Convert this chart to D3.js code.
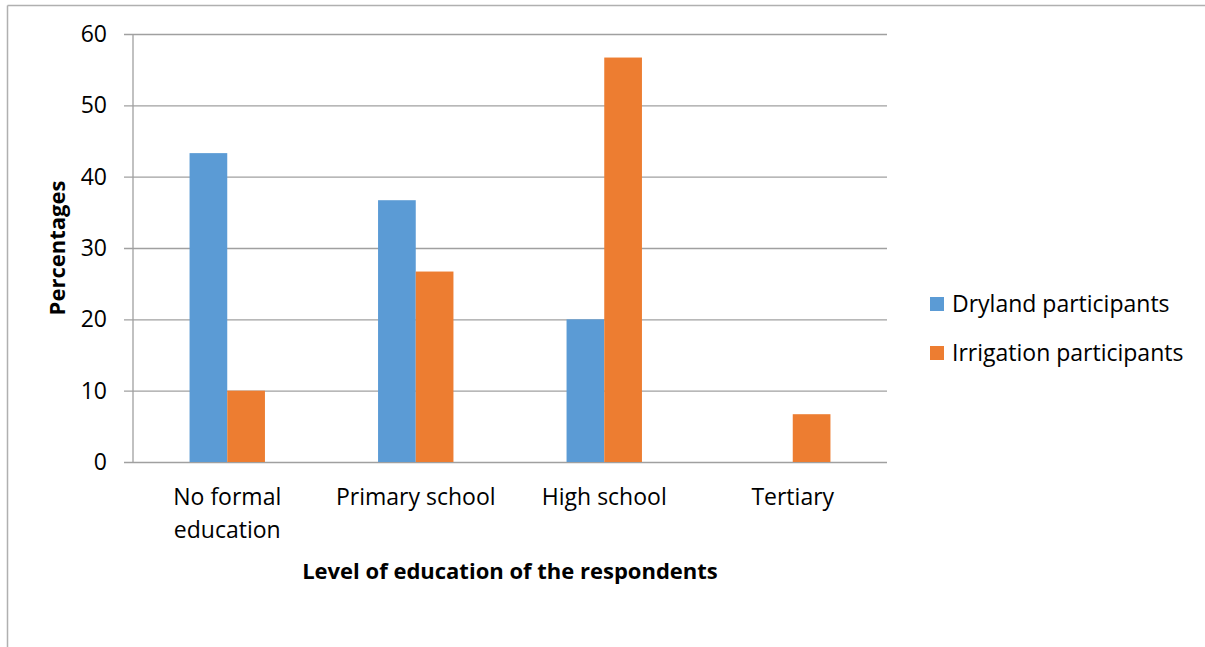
<!DOCTYPE html>
<html>
<head>
<meta charset="utf-8">
<script src="https://cdn.jsdelivr.net/npm/d3@7"></script>
<style>
  html, body { margin: 0; padding: 0; background: #fff; }
  svg { display: block; font-family: "Open Sans", Lato, sans-serif; }
</style>
</head>
<body>
<svg id="chart" width="1205" height="647"></svg>
<script>
const categories = [["No formal", "education"], ["Primary school"], ["High school"], ["Tertiary"]];
const seriesNames = ["Dryland participants", "Irrigation participants"];
const dryland = [43.3, 36.7, 20, 0];
const irrigation = [10, 26.7, 56.7, 6.7];
const yTicks = [0, 10, 20, 30, 40, 50, 60];
const colors = ["#5B9BD5", "#ED7D31"];

const FONT = "'Open Sans', Lato, sans-serif";
const FS = 23;
const FSB = 22;

const svg = d3.select("#chart");
const W = 1205, H = 647;
const plot = { left: 133, right: 887, top: 34, bottom: 462 };

// outer frame (top and left edges visible)
svg.append("line").attr("x1", 7.5).attr("x2", W).attr("y1", 5.5).attr("y2", 5.5)
  .attr("stroke", "#b0b0b0").attr("stroke-width", 1.5);
svg.append("line").attr("x1", 7.5).attr("x2", 7.5).attr("y1", 5.5).attr("y2", H)
  .attr("stroke", "#b0b0b0").attr("stroke-width", 1.5);

const catKeys = categories.map((c, i) => i);
const x0 = d3.scaleBand().domain(catKeys).range([plot.left, plot.right]).paddingInner(0).paddingOuter(0);
const barW = x0.bandwidth() / 5;
const x1 = d3.scaleBand().domain([0, 1]).range([0, barW * 2]);
const y = d3.scaleLinear().domain([0, 60]).range([plot.bottom, plot.top]);

// gridlines + tick marks
const yAxis = d3.axisLeft(y).tickValues(yTicks).tickSize(-(plot.right - plot.left)).tickSizeOuter(0).tickPadding(26);
const gy = svg.append("g").attr("transform", `translate(${plot.left},0)`).call(yAxis);
gy.select(".domain").remove();
gy.selectAll(".tick line").attr("stroke", "#a0a0a0").attr("stroke-width", 1.3).attr("x1", -9);
gy.selectAll(".tick text").attr("font-size", FS).attr("fill", "#000").attr("font-family", FONT);

// y axis line
svg.append("line").attr("x1", plot.left).attr("x2", plot.left).attr("y1", plot.top).attr("y2", plot.bottom)
  .attr("stroke", "#a0a0a0").attr("stroke-width", 1.3);

// bars
const data = catKeys.map(i => [dryland[i], irrigation[i]]);
const groups = svg.append("g").selectAll("g").data(data).join("g")
  .attr("transform", (d, i) => `translate(${x0(i) + x0.bandwidth() / 2 - barW},0)`);
groups.selectAll("rect").data(d => d.map((v, s) => ({ v, s }))).join("rect")
  .attr("x", d => x1(d.s))
  .attr("width", barW)
  .attr("y", d => y(d.v))
  .attr("height", d => y(0) - y(d.v))
  .attr("fill", d => colors[d.s]);

// category labels
const catG = svg.append("g");
categories.forEach((lines, i) => {
  const t = catG.append("text").attr("x", x0(i) + x0.bandwidth() / 2).attr("y", 505)
    .attr("text-anchor", "middle").attr("font-size", FS).attr("fill", "#000");
  lines.forEach((ln, j) => t.append("tspan").attr("x", x0(i) + x0.bandwidth() / 2).attr("dy", j === 0 ? 0 : 33).text(ln));
});

// axis titles
svg.append("text").attr("x", (plot.left + plot.right) / 2).attr("y", 579)
  .attr("text-anchor", "middle").attr("font-size", FSB).attr("font-weight", "bold").attr("fill", "#000")
  .text("Level of education of the respondents");
svg.append("text").attr("transform", `translate(65,${(plot.top + plot.bottom) / 2}) rotate(-90)`)
  .attr("text-anchor", "middle").attr("font-size", FSB).attr("font-weight", "bold").attr("fill", "#000")
  .text("Percentages");

// legend
const lg = svg.append("g").attr("transform", "translate(930,297)");
seriesNames.forEach((n, i) => {
  lg.append("rect").attr("x", 0).attr("y", i * 49).attr("width", 14).attr("height", 14).attr("fill", colors[i]);
  lg.append("text").attr("x", 22).attr("y", i * 49 + 15).attr("font-size", FS).attr("fill", "#000").text(n);
});
</script>
</body>
</html>
